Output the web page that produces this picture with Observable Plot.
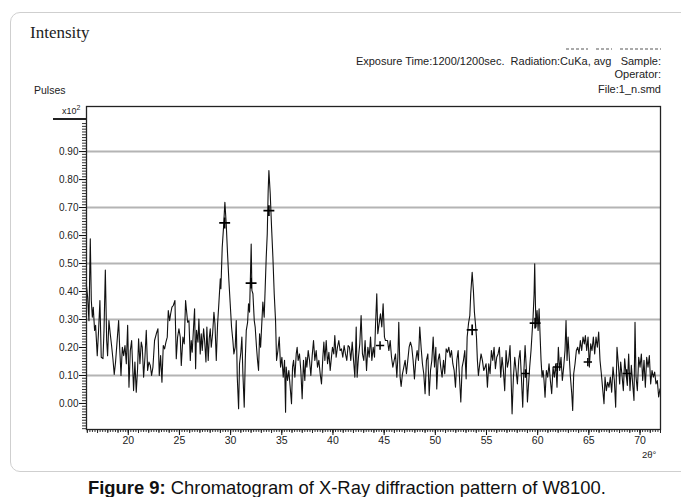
<!DOCTYPE html>
<html><head><meta charset="utf-8">
<script src="https://cdn.jsdelivr.net/npm/d3@7"></script>
<script src="https://cdn.jsdelivr.net/npm/@observablehq/plot@0.6"></script>
<style>
html,body{margin:0;padding:0;background:#fff}
body{width:681px;height:497px;position:relative;overflow:hidden;font-family:"Liberation Sans",Arial,sans-serif;color:#111}
.abs{position:absolute;white-space:nowrap}
#box{position:absolute;left:10px;top:12px;width:720px;height:458px;border:1px solid #cfcfcf;border-radius:10px}
#title{left:30px;top:23px;font-family:"Liberation Serif","Times New Roman",serif;font-size:17px;color:#222}
.hdr{font-size:11px;right:20px;text-align:right;color:#222}
.faint{position:absolute;top:48px;height:2px;background:repeating-linear-gradient(90deg,#aaa 0 3px,transparent 3px 5px)}
#pulses{left:34px;top:84px;font-size:10.5px;color:#222}
#x10{left:62px;top:104px;font-size:9px;color:#222}
#x10 sup{font-size:7px;vertical-align:4px}
#x10line{position:absolute;left:53px;top:118px;width:34px;height:2px;background:#222}
#theta{left:642px;top:449px;font-size:9.5px;color:#222}
#caption{left:88px;top:477px;font-size:18.4px;color:#111}
#chart{position:absolute;left:0;top:0}
</style></head><body>
<div id="box"></div>
<div id="title" class="abs">Intensity</div>
<div class="faint" style="left:566px;width:22px"></div>
<div class="faint" style="left:596px;width:16px"></div>
<div class="faint" style="left:620px;width:41px"></div>
<div class="abs hdr" style="top:55px">Exposure Time:1200/1200sec.&nbsp; Radiation:CuKa, avg &nbsp; Sample:</div>
<div class="abs hdr" style="top:68px">Operator:</div>
<div class="abs hdr" style="top:83px">File:1_n.smd</div>
<div id="pulses" class="abs">Pulses</div>
<div id="x10" class="abs">x10<sup>2</sup></div>
<div id="x10line"></div>
<div id="chart"></div>
<div id="theta" class="abs">2θ°</div>
<div id="caption" class="abs"><b>Figure 9:</b> Chromatogram of X-Ray diffraction pattern of W8100.</div>
<script>
// 2θ (degrees), intensity (x10^2 pulses)
const scan1 = [[15.90,0.427],[16.03,0.380],[16.16,0.296],[16.29,0.588],[16.39,0.368],[16.49,0.308],[16.58,0.344],[16.71,0.261],[16.81,0.279],[16.97,0.171],[17.10,0.261],[17.23,0.368],[17.36,0.165],[17.53,0.160],[17.63,0.261],[17.76,0.477],[17.89,0.225],[17.98,0.171],[18.11,0.296],[18.24,0.249],[18.37,0.207],[18.50,0.160],[18.63,0.104],[18.76,0.148],[18.89,0.213],[19.06,0.296],[19.16,0.201],[19.29,0.100],[19.42,0.201],[19.55,0.171],[19.68,0.207],[19.81,0.142],[19.94,0.279],[20.07,0.058],[20.20,0.189],[20.33,0.225],[20.42,0.142],[20.52,0.046],[20.65,0.148],[20.78,0.040],[20.91,0.124],[21.01,0.231],[21.14,0.142],[21.27,0.219],[21.37,0.201],[21.50,0.094],[21.63,0.165],[21.76,0.261],[21.89,0.118],[22.02,0.148],[22.15,0.136],[22.28,0.100],[22.41,0.130],[22.57,0.225],[22.74,0.249],[22.90,0.267],[23.03,0.100],[23.16,0.171],[23.29,0.076],[23.42,0.207],[23.55,0.195],[23.68,0.219],[23.81,0.237],[23.91,0.332],[24.04,0.296],[24.14,0.320],[24.27,0.344],[24.40,0.350],[24.56,0.368],[24.69,0.160],[24.82,0.237],[24.95,0.267],[25.08,0.237],[25.18,0.136],[25.34,0.237],[25.47,0.213],[25.60,0.368]];
const scan2 = [[25.80,0.290],[25.93,0.296],[26.06,0.154],[26.15,0.225],[26.25,0.183],[26.38,0.273],[26.48,0.338],[26.58,0.124],[26.67,0.261],[26.81,0.219],[26.90,0.302],[27.03,0.177],[27.13,0.249],[27.23,0.189],[27.36,0.267],[27.46,0.225],[27.59,0.148],[27.68,0.273],[27.81,0.154],[27.91,0.231],[28.01,0.267],[28.11,0.201],[28.24,0.249],[28.37,0.326],[28.47,0.285],[28.60,0.154],[28.73,0.285],[28.86,0.362],[28.99,0.445],[29.05,0.410],[29.18,0.558],[29.31,0.630],[29.44,0.719],[29.57,0.642],[29.70,0.535],[29.83,0.439],[29.96,0.356],[30.09,0.273],[30.22,0.225],[30.32,0.177],[30.45,0.201],[30.55,0.296],[30.65,0.094],[30.78,-0.019],[30.87,0.142],[31.00,0.183],[31.10,0.237],[31.20,0.106],[31.33,-0.013],[31.43,0.154],[31.53,0.261],[31.66,0.290],[31.75,0.356],[31.85,0.326],[31.95,0.475],[32.01,0.570],[32.08,0.404],[32.18,0.392],[32.31,0.296],[32.40,0.273],[32.53,0.201],[32.63,0.154],[32.73,0.118],[32.83,0.249],[32.93,0.201],[33.06,0.296],[33.15,0.362],[33.28,0.308],[33.38,0.415],[33.48,0.523],[33.58,0.606],[33.67,0.761],[33.74,0.832],[33.87,0.749],[34.00,0.630],[34.13,0.523],[34.26,0.392],[34.39,0.296],[34.49,0.154],[34.62,0.189],[34.75,0.237],[34.88,0.130],[35.01,0.165],[35.14,0.094],[35.27,0.154],[35.37,-0.031]];
const scan3 = [[35.43,0.130],[35.56,0.082],[35.69,0.118],[35.82,0.058],[35.95,-0.001],[36.05,0.130],[36.15,0.154],[36.28,0.094],[36.41,0.177],[36.50,0.201],[36.60,0.154],[36.73,0.177],[36.86,0.118],[36.99,0.017],[37.12,0.154],[37.25,0.082],[37.35,0.165],[37.45,0.130],[37.58,0.189],[37.71,0.154],[37.84,0.100],[37.97,0.171],[38.10,0.225],[38.23,0.154],[38.36,0.189],[38.49,0.130],[38.62,0.154],[38.75,0.106],[38.88,0.070],[39.01,0.165],[39.11,0.219],[39.21,0.154],[39.34,0.225],[39.47,0.142],[39.60,0.183],[39.73,0.118],[39.82,0.154],[39.95,0.201],[40.08,0.177],[40.18,0.243],[40.31,0.165],[40.44,0.201],[40.57,0.225],[40.70,0.189],[40.83,0.195],[40.96,0.165],[41.09,0.207],[41.22,0.177],[41.35,0.154],[41.48,0.207],[41.61,0.201],[41.74,0.154],[41.88,0.219],[42.01,0.154],[42.14,0.094],[42.27,0.273],[42.36,0.094],[42.49,0.165],[42.62,0.213],[42.75,0.314],[42.88,0.177],[43.01,0.154],[43.14,0.225],[43.28,0.118],[43.41,0.201],[43.54,0.165],[43.67,0.237],[43.80,0.154],[43.93,0.201],[44.06,0.165],[44.15,0.273],[44.28,0.392],[44.38,0.249],[44.51,0.285],[44.64,0.320],[44.77,0.273],[44.90,0.356],[45.03,0.237],[45.13,0.225]];
const scan4 = [[45.33,0.225],[45.46,0.189],[45.59,0.225],[45.72,0.165],[45.85,0.130],[45.98,0.154],[46.11,0.177],[46.24,0.094],[46.34,0.165],[46.43,0.290],[46.56,0.094],[46.66,0.061],[46.79,0.106],[46.92,0.130],[47.05,0.154],[47.18,0.106],[47.31,0.154],[47.44,0.201],[47.57,0.219],[47.70,0.201],[47.83,0.154],[47.96,0.088],[48.09,0.154],[48.22,0.189],[48.35,0.154],[48.48,0.273],[48.61,0.201],[48.74,0.142],[48.87,0.106],[49.00,0.035],[49.13,0.154],[49.27,0.177],[49.40,0.029],[49.53,0.118],[49.66,0.154],[49.79,0.237],[49.92,0.130],[50.05,0.201],[50.14,0.052],[50.27,0.154],[50.40,0.177],[50.53,0.130],[50.66,0.094],[50.80,0.154],[50.92,0.106],[51.06,0.195],[51.19,0.183],[51.32,0.201],[51.45,0.165],[51.58,0.189],[51.71,0.142],[51.84,0.118],[51.97,0.058],[52.10,0.154],[52.23,0.189],[52.36,0.094],[52.49,0.005],[52.62,0.130],[52.75,0.154],[52.88,0.189],[53.01,0.088],[53.11,0.237],[53.24,0.285],[53.37,0.314],[53.46,0.392],[53.60,0.469],[53.72,0.404],[53.82,0.326],[53.92,0.285],[54.02,0.237],[54.11,0.154],[54.21,0.100],[54.34,0.142],[54.47,0.177],[54.60,0.154],[54.73,0.118],[54.86,0.130]];
const scan5 = [[54.96,0.142],[55.09,0.058],[55.22,0.142],[55.35,0.106],[55.48,0.189],[55.61,0.154],[55.74,0.201],[55.87,0.124],[56.00,0.165],[56.13,0.177],[56.26,0.201],[56.39,0.094],[56.52,0.165],[56.65,0.118],[56.78,0.046],[56.91,0.189],[57.04,0.130],[57.17,0.154],[57.30,0.207],[57.40,0.094],[57.50,-0.037],[57.63,0.094],[57.76,0.165],[57.89,0.118],[58.02,0.070],[58.15,0.154],[58.28,0.189],[58.41,0.094],[58.54,-0.013],[58.64,0.106],[58.77,0.207],[58.90,0.118],[59.00,0.005],[59.09,0.058],[59.22,0.130],[59.35,0.189],[59.45,0.249],[59.55,0.308],[59.65,0.392],[59.71,0.499],[59.78,0.356],[59.84,0.273],[59.94,0.332],[60.04,0.261],[60.14,0.338],[60.23,0.249],[60.33,0.154],[60.43,0.094],[60.53,0.118],[60.62,0.082],[60.72,0.022],[60.85,0.118],[60.98,0.094],[61.11,0.142],[61.24,0.082],[61.37,0.035],[61.50,0.130],[61.63,0.094],[61.76,0.142],[61.89,0.058],[62.02,0.201],[62.15,0.118],[62.28,0.165],[62.41,0.082],[62.54,0.130],[62.67,0.189],[62.77,0.296],[62.87,0.154],[62.97,0.237],[63.07,0.177],[63.20,0.094],[63.33,0.035],[63.42,-0.025],[63.52,0.106],[63.65,0.142],[63.78,0.189],[63.91,0.201],[64.04,0.177],[64.17,0.225],[64.30,0.189],[64.43,0.237],[64.56,0.213],[64.66,0.243]];
const scan6 = [[64.79,0.189],[64.92,0.237],[65.05,0.130],[65.18,0.213],[65.31,0.189],[65.44,0.237],[65.57,0.177],[65.70,0.237],[65.83,0.201],[65.96,0.255],[66.09,0.154],[66.22,0.106],[66.35,0.052],[66.48,-0.001],[66.58,0.094],[66.71,0.046],[66.84,0.076],[66.97,0.058],[67.10,0.094],[67.23,0.040],[67.36,0.130],[67.49,0.082],[67.62,-0.013],[67.75,0.201],[67.88,0.142],[68.01,0.070],[68.11,0.148],[68.24,0.100],[68.37,0.046],[68.50,0.160],[68.63,0.106],[68.76,0.064],[68.89,0.177],[69.02,0.046],[69.15,0.136],[69.28,0.070],[69.41,0.011],[69.51,0.290],[69.61,0.094],[69.74,0.046],[69.87,0.165],[70.00,0.130],[70.13,0.177],[70.26,0.082],[70.39,0.154],[70.52,0.058],[70.65,0.165],[70.78,0.130],[70.91,0.171],[71.04,0.070],[71.17,0.118],[71.30,0.094],[71.43,0.112],[71.56,0.070],[71.69,0.082],[71.82,0.023],[71.95,0.052]];

// identified peak markers
const peaksStrong = [[29.42,0.645],[32.00,0.430],[33.74,0.689],[53.60,0.263],[59.75,0.287]];
const peaksWeak = [[44.60,0.207],[58.80,0.107],[61.90,0.130],[64.90,0.148],[68.70,0.107]];

// axes
const xTickLabels = [20,25,30,35,40,45,50,55,60,65,70];
const yTickLabels = [0.00,0.10,0.20,0.30,0.40,0.50,0.60,0.70,0.80,0.90];
const yGrid = [0.10,0.30,0.50,0.70,0.90];
const xMinor = d3.range(16*4, 72*4+1).map(i => i/4);
const xInt = d3.range(16, 73);
const yMinor = d3.range(-9, 101).map(i => i/100);

const scan = [...scan1, ...scan2, ...scan3, ...scan4, ...scan5, ...scan6];

const chart = Plot.plot({
  width: 681,
  height: 470,
  marginLeft: 86,
  marginRight: 21,
  marginTop: 106,
  marginBottom: 41,
  style: {fontFamily: "Liberation Sans, Arial, sans-serif", fontSize: "10px", background: "transparent", color: "#222"},
  x: {domain: [15.92, 72.0]},
  y: {domain: [-0.093, 1.061]},
  marks: [
    Plot.ruleY(yGrid, {stroke: "#b4b4b4", strokeWidth: 2}),
    Plot.line(scan, {x: d => d[0], y: d => d[1], stroke: "#111", strokeWidth: 1.1}),
    Plot.dot(peaksStrong, {x: d => d[0], y: d => d[1], symbol: "plus", r: 3.6, stroke: "#000", strokeWidth: 1.7}),
    Plot.dot(peaksWeak, {x: d => d[0], y: d => d[1], symbol: "plus", r: 2.8, stroke: "#000", strokeWidth: 1.5}),
    Plot.axisX({ticks: xMinor, tickSize: 3, tickFormat: () => "", label: null, stroke: "#333"}),
    Plot.axisX({ticks: xInt, tickSize: 4, tickFormat: () => "", label: null, stroke: "#222"}),
    Plot.axisX({ticks: xTickLabels, tickSize: 6, tickPadding: 1, label: null, stroke: "#111", fontSize: 10.5}),
    Plot.axisY({ticks: yMinor, tickSize: 4, tickFormat: () => "", label: null, stroke: "#333"}),
    Plot.axisY({ticks: yTickLabels, tickSize: 7, tickPadding: 1, tickFormat: d => d.toFixed(2), label: null, stroke: "#111", fontSize: 10}),
    Plot.frame({stroke: "#222", strokeWidth: 1.3})
  ]
});
document.getElementById("chart").appendChild(chart);
</script>
</body></html>
